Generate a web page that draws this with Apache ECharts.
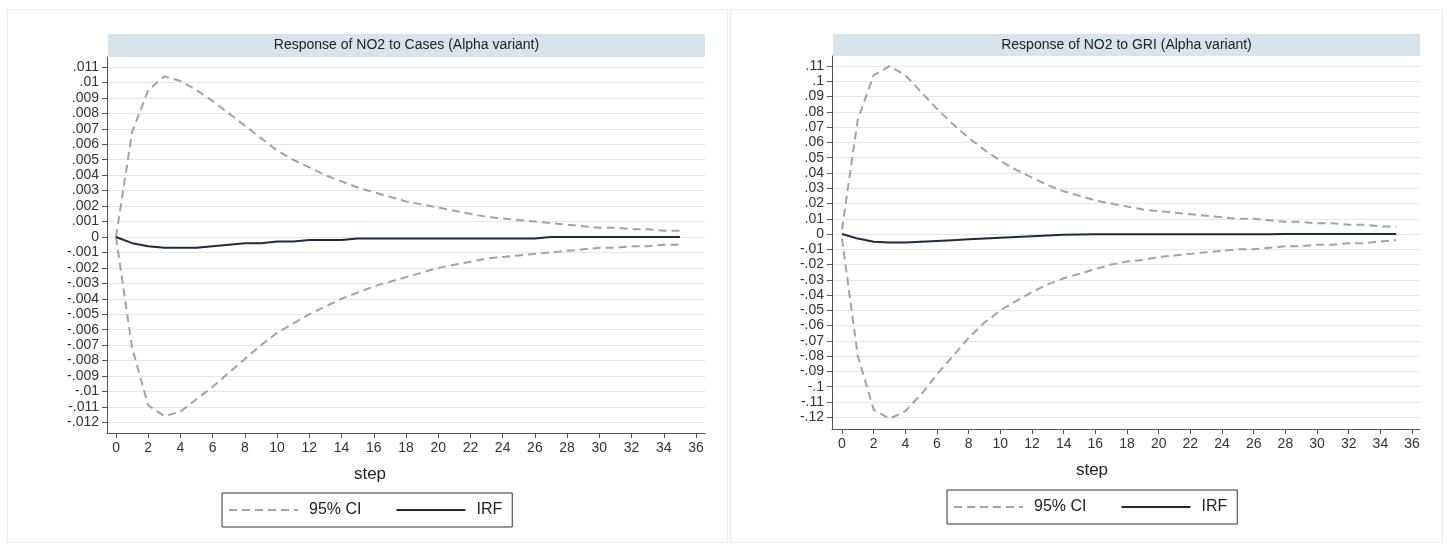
<!DOCTYPE html>
<html>
<head>
<meta charset="utf-8"/>
<title>IRF NO2 Alpha variant</title>
<script src="https://cdn.jsdelivr.net/npm/echarts@6/dist/echarts.min.js"></script>
<style>
    body, #chart {
        margin: 0;
        padding: 0;
        width: 1447px;
        height: 544px;
        background: #fff;
        overflow: hidden;
    }
</style>
</head>
<body>
<div id="chart"></div>
<script>
var steps = [0,1,2,3,4,5,6,7,8,9,10,11,12,13,14,15,16,17,18,19,20,21,22,23,24,25,26,27,28,29,30,31,32,33,34,35];

// Response of NO2 to Cases
var casesUpper = [0,.0068,.0095,.0104,.0101,.0095,.0088,.0080,.0072,.0064,.0056,.0050,.0045,.0040,.0036,.0032,.0029,.0026,.0023,.0021,.0019,.0017,.0015,.0013,.0012,.0011,.0010,.0009,.0008,.0007,.0006,.0006,.0005,.0005,.0004,.0004];
var casesLower = [0,-.0072,-.0109,-.0116,-.0113,-.0105,-.0097,-.0088,-.0079,-.0070,-.0062,-.0056,-.0050,-.0045,-.0040,-.0036,-.0032,-.0029,-.0026,-.0023,-.0020,-.0018,-.0016,-.0014,-.0013,-.0012,-.0011,-.0010,-.0009,-.0008,-.0007,-.0007,-.0006,-.0006,-.0005,-.0005];
var casesIrf = [0,-.0004,-.0006,-.0007,-.0007,-.0007,-.0006,-.0005,-.0004,-.0004,-.0003,-.0003,-.0002,-.0002,-.0002,-.0001,-.0001,-.0001,-.0001,-.0001,-.0001,-.0001,-.0001,-.0001,-.0001,-.0001,-.0001,0,0,0,0,0,0,0,0,0];

// Response of NO2 to GRI
var griUpper = [.003,.075,.104,.110,.104,.093,.082,.072,.063,.055,.048,.042,.037,.032,.028,.025,.022,.020,.018,.016,.015,.014,.013,.012,.011,.010,.010,.009,.008,.008,.007,.007,.006,.006,.005,.005];
var griLower = [-.003,-.080,-.115,-.121,-.116,-.105,-.092,-.080,-.068,-.058,-.050,-.044,-.038,-.033,-.029,-.026,-.023,-.020,-.018,-.017,-.015,-.014,-.013,-.012,-.011,-.010,-.010,-.009,-.008,-.008,-.007,-.007,-.006,-.006,-.005,-.004];
var griIrf = [0,-.003,-.005,-.0055,-.0055,-.005,-.0045,-.004,-.0035,-.003,-.0025,-.002,-.0015,-.001,-.0005,-.0003,-.0002,-.0002,-.0002,-.0002,-.0001,-.0001,-.0001,-.0001,-.0001,-.0001,-.0001,-.0001,0,0,0,0,0,0,0,0];

var stepTicks = [0,2,4,6,8,10,12,14,16,18,20,22,24,26,28,30,32,34,36];
var casesTicks = [-.012,-.011,-.01,-.009,-.008,-.007,-.006,-.005,-.004,-.003,-.002,-.001,0,.001,.002,.003,.004,.005,.006,.007,.008,.009,.01,.011];
var griTicks = [-.12,-.11,-.1,-.09,-.08,-.07,-.06,-.05,-.04,-.03,-.02,-.01,0,.01,.02,.03,.04,.05,.06,.07,.08,.09,.1,.11];
var panelTitles = ['Response of NO2 to Cases (Alpha variant)', 'Response of NO2 to GRI (Alpha variant)'];
var legendNames = ['95% CI', 'IRF'];

var FONT = '"Liberation Sans", Arial, sans-serif';
var CI_COLOR = '#a3a3a3';
var IRF_COLOR = '#1f2a3c';

function pairs(values) {
    return steps.map(function (s, i) { return [s, values[i]]; });
}
function stataNum(v) {
    var s = String(parseFloat(v.toFixed(4)));
    return s.replace(/^(-?)0\./, '$1.');
}
function xAxisFor(grid, min, max) {
    return {
        gridIndex: grid, type: 'value', min: min, max: max,
        axisLine: {show: true, onZero: false, lineStyle: {color: '#555', width: 1}},
        axisTick: {show: true, length: 5, customValues: stepTicks, lineStyle: {color: '#555'}},
        axisLabel: {customValues: stepTicks, fontSize: 14, fontFamily: FONT, color: '#333', margin: 8},
        splitLine: {show: false}
    };
}
function yAxisFor(grid, min, max, ticks) {
    return {
        gridIndex: grid, type: 'value', min: min, max: max,
        axisLine: {show: true, onZero: false, lineStyle: {color: '#555', width: 1}},
        axisTick: {show: true, length: 5, customValues: ticks, lineStyle: {color: '#555'}},
        axisLabel: {customValues: ticks, formatter: stataNum, fontSize: 14, fontFamily: FONT, color: '#333', margin: 8},
        splitLine: {show: true, lineStyle: {color: '#e6e6e6', width: 1}}
    };
}
function ciSeries(idx, values) {
    return {
        name: '95% CI', type: 'line', xAxisIndex: idx, yAxisIndex: idx,
        data: pairs(values), symbol: 'none', smooth: false, color: CI_COLOR,
        lineStyle: {color: CI_COLOR, width: 2, type: [8, 5]}, z: 2
    };
}
function irfSeries(idx, values) {
    return {
        name: 'IRF', type: 'line', xAxisIndex: idx, yAxisIndex: idx,
        data: pairs(values), symbol: 'none', smooth: false, color: IRF_COLOR,
        lineStyle: {color: IRF_COLOR, width: 2}, z: 3
    };
}
function legendAt(left, top) {
    return {
        left: left, top: top, orient: 'horizontal', data: legendNames,
        itemWidth: 69, itemHeight: 14, itemGap: 34, selectedMode: false,
        borderColor: '#333', borderWidth: 1, backgroundColor: '#fff',
        padding: [9, 10, 9, 6],
        // hide the marker dot, keep the line sample
        itemStyle: {opacity: 0, borderWidth: 0},
        textStyle: {fontSize: 16, fontFamily: FONT, color: '#222', padding: [0, 0, 0, 6]}
    };
}
function strip(x, y, w, h, text) {
    return [
        {type: 'rect', shape: {x: x, y: y, width: w, height: h}, style: {fill: '#d7e4eb'}, z: 1},
        {type: 'text', x: x + w / 2, y: y + h / 2, z: 2,
         style: {text: text, fontSize: 14, fontFamily: FONT, fill: '#222', textAlign: 'center', verticalAlign: 'middle', textVerticalAlign: 'middle'}}
    ];
}
function label(x, y, text) {
    return {type: 'text', x: x, y: y, z: 2,
        style: {text: text, fontSize: 17, fontFamily: FONT, fill: '#222', textAlign: 'center', verticalAlign: 'middle', textVerticalAlign: 'middle'}};
}

var graphics = [
    {type: 'rect', shape: {x: 7.5, y: 9.5, width: 720, height: 533}, style: {fill: 'none', stroke: '#ececec', lineWidth: 1}, z: 0},
    {type: 'rect', shape: {x: 730.5, y: 9.5, width: 712, height: 533}, style: {fill: 'none', stroke: '#ececec', lineWidth: 1}, z: 0}
].concat(strip(108, 34, 597, 23, panelTitles[0]))
 .concat(strip(833, 34, 587, 22, panelTitles[1]))
 .concat([label(370, 474, 'step'), label(1092, 470, 'step')]);

var chart = echarts.init(document.getElementById('chart'), null, {renderer: 'canvas'});
chart.setOption({
    backgroundColor: '#fff',
    animation: false,
    grid: [
        {left: 107, top: 57, width: 598, height: 376},
        {left: 832, top: 56, width: 588, height: 373}
    ],
    xAxis: [xAxisFor(0, -0.56, 36.56), xAxisFor(1, -0.63, 36.5)],
    yAxis: [yAxisFor(0, -0.01269, 0.01165, casesTicks), yAxisFor(1, -0.1277, 0.1166, griTicks)],
    legend: [legendAt(222, 493), legendAt(947, 490)],
    graphic: graphics,
    series: [
        ciSeries(0, casesUpper), ciSeries(0, casesLower), irfSeries(0, casesIrf),
        ciSeries(1, griUpper), ciSeries(1, griLower), irfSeries(1, griIrf)
    ]
});
</script>
</body>
</html>
